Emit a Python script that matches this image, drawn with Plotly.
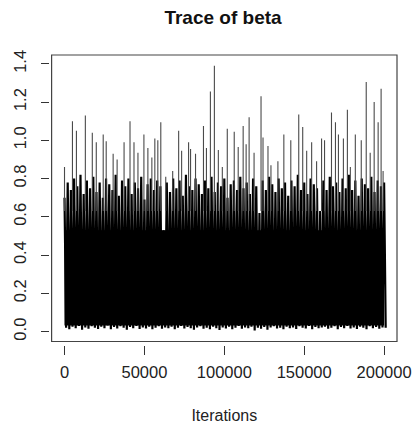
import plotly.graph_objects as go

# ---- data ----
step_iter = 2000
band_top = [0.70, 0.78, 0.74, 0.80, 0.76, 0.82, 0.72, 0.79, 0.75, 0.81,
            0.73, 0.78, 0.70, 0.80, 0.77, 0.74, 0.82, 0.71, 0.79, 0.76,
            0.80, 0.72, 0.78, 0.75, 0.81, 0.69, 0.77, 0.80, 0.74, 0.79,
            0.76, 0.53, 0.78, 0.73, 0.80, 0.75, 0.79, 0.71, 0.82, 0.76,
            0.74, 0.80, 0.77, 0.72, 0.79, 0.75, 0.81, 0.73, 0.78, 0.76,
            0.80, 0.70, 0.77, 0.79, 0.74, 0.81, 0.75, 0.78, 0.72, 0.80,
            0.76, 0.62, 0.79, 0.74, 0.81, 0.77, 0.73, 0.80, 0.75, 0.78,
            0.71, 0.79, 0.76, 0.82, 0.74, 0.78, 0.72, 0.80, 0.77, 0.75,
            0.63, 0.79, 0.74, 0.81, 0.76, 0.78, 0.73, 0.80, 0.75, 0.82,
            0.74, 0.79, 0.71, 0.80, 0.77, 0.75, 0.81, 0.73, 0.79, 0.76,
            0.78]
band_bottom = [0.020, 0.012, 0.025, 0.018, 0.030, 0.010, 0.022, 0.015, 0.028, 0.020,
               0.014, 0.026, 0.018, 0.032, 0.012, 0.024, 0.016, 0.028, 0.020, 0.010,
               0.024, 0.018, 0.030, 0.014, 0.022, 0.016, 0.026, 0.012, 0.020, 0.028,
               0.015, 0.022, 0.018, 0.025, 0.012, 0.020, 0.030, 0.016, 0.024, 0.018,
               0.010, 0.022, 0.028, 0.015, 0.020, 0.012, 0.026, 0.018, 0.008, 0.022,
               0.016, 0.025, 0.012, 0.020, 0.030, 0.015, 0.022, 0.018, 0.026, 0.006,
               0.020, 0.015, 0.024, 0.010, 0.022, 0.028, 0.016, 0.020, 0.012, 0.025,
               0.018, 0.022, 0.014, 0.028, 0.020, 0.016, 0.030, 0.012, 0.024, 0.018,
               0.022, 0.026, 0.015, 0.020, 0.028, 0.012, 0.024, 0.018, 0.030, 0.016,
               0.022, 0.014, 0.026, 0.020, 0.012, 0.028, 0.018, 0.024, 0.015, 0.022,
               0.020]

spike_iter = [0, 4970, 7450, 13040, 17390, 19880, 24220, 26090, 30430, 32920,
              37270, 40990, 43480, 45960, 49690, 52170, 54660, 56520, 58390, 60250,
              63350, 67700, 71430, 73290, 77640, 78880, 81990, 86960, 88820, 91300,
              93790, 96270, 98760, 101860, 106210, 108700, 111800, 113660, 115530, 118630,
              122980, 124220, 127330, 129190, 133540, 137260, 141610, 146580, 149070, 151550,
              154660, 157760, 160870, 162730, 167080, 169560, 171430, 174530, 177020, 178880,
              181990, 185710, 188820, 191300, 193790, 196270, 198130, 199370]
spike_value = [0.86, 1.10, 1.05, 1.13, 1.04, 0.99, 1.03, 0.995, 0.93, 0.90,
               0.99, 1.10, 0.99, 0.935, 1.03, 0.96, 0.91, 1.01, 1.00, 1.095,
               0.81, 0.84, 1.05, 0.945, 0.99, 0.955, 0.93, 1.075, 0.96, 1.255,
               1.39, 0.95, 0.86, 1.06, 1.045, 0.965, 1.075, 0.98, 1.12, 0.935,
               1.23, 1.015, 0.97, 0.87, 0.89, 1.03, 1.00, 1.135, 1.07, 0.945,
               0.99, 0.89, 1.01, 1.00, 1.145, 1.095, 1.03, 1.01, 1.16, 0.86,
               1.03, 1.00, 1.305, 0.935, 1.20, 1.095, 1.27, 0.84]

x_ticks = [0, 50000, 100000, 150000, 200000]
y_ticks = [0.0, 0.2, 0.4, 0.6, 0.8, 1.0, 1.2, 1.4]
y_tick_text = ["0.0", "0.2", "0.4", "0.6", "0.8", "1.0", "1.2", "1.4"]

# ---- build the trace: an up/down path through the read envelope ----
tx, ty = [], []
for i, (hi, lo) in enumerate(zip(band_top, band_bottom)):
    tx += [i * step_iter, i * step_iter + step_iter / 2]
    ty += [hi, lo]
last_x = (len(band_top) - 1) * step_iter

# solid core where every up/down stroke overlaps
core_lo = max(band_bottom)
core_hi = min(band_top)
core_x = [0, last_x, last_x, 0, 0]
core_y = [core_lo, core_lo, core_hi, core_hi, core_lo]

sx, sy = [], []
for it, v in zip(spike_iter, spike_value):
    sx += [it, it, None]
    sy += [core_hi + 0.1, v, None]

fig = go.Figure()
fig.add_trace(go.Scatter(x=core_x, y=core_y, mode="lines", fill="toself",
                         fillcolor="black", line=dict(width=0, color="black"),
                         hoverinfo="skip", showlegend=False))
fig.add_trace(go.Scatter(x=tx, y=ty, mode="lines",
                         line=dict(width=2.2, color="black", simplify=False),
                         hoverinfo="skip", showlegend=False))
fig.add_trace(go.Scatter(x=sx, y=sy, mode="lines",
                         line=dict(width=1.1, color="#4a4a4a"),
                         hoverinfo="skip", showlegend=False))

font_fam = "Liberation Sans, Arial, sans-serif"
fig.update_layout(
    width=412, height=427,
    margin=dict(l=49, r=15, t=55, b=82),
    paper_bgcolor="white", plot_bgcolor="white",
    font=dict(family=font_fam, size=16.5, color="#222"),
    title=dict(text="<b>Trace of beta</b>", x=223 / 412, xanchor="center",
               y=1 - 17 / 427, yanchor="middle", pad=dict(t=0, b=0),
               font=dict(size=19, color="#111")),
    xaxis=dict(domain=[0.0075, 1], range=[-8075, 208075], anchor="free", position=0,
               tickvals=x_ticks, ticktext=[str(t) for t in x_ticks],
               ticks="outside", ticklen=9, tickwidth=1, tickcolor="#333",
               ticklabelstandoff=3,
               showgrid=False, zeroline=False, showline=False, automargin=False,
               title=dict(text="Iterations", standoff=30, font=dict(size=16))),
    yaxis=dict(domain=[0.012, 1], range=[-0.0517, 1.446], anchor="free", position=0,
               tickvals=y_ticks, ticktext=y_tick_text, tickangle=-90,
               ticks="outside", ticklen=8, tickwidth=1, tickcolor="#333",
               ticklabelstandoff=8, automargin=False,
               showgrid=False, zeroline=False, showline=False),
    shapes=[dict(type="rect", xref="paper", yref="paper",
                 x0=0.0075, x1=1, y0=0.012, y1=1,
                 line=dict(color="#444", width=1.2))],
)

fig.write_html("out.html", config={"displayModeBar": False},
               post_script="document.body.style.margin='0';document.body.style.padding='0';")
